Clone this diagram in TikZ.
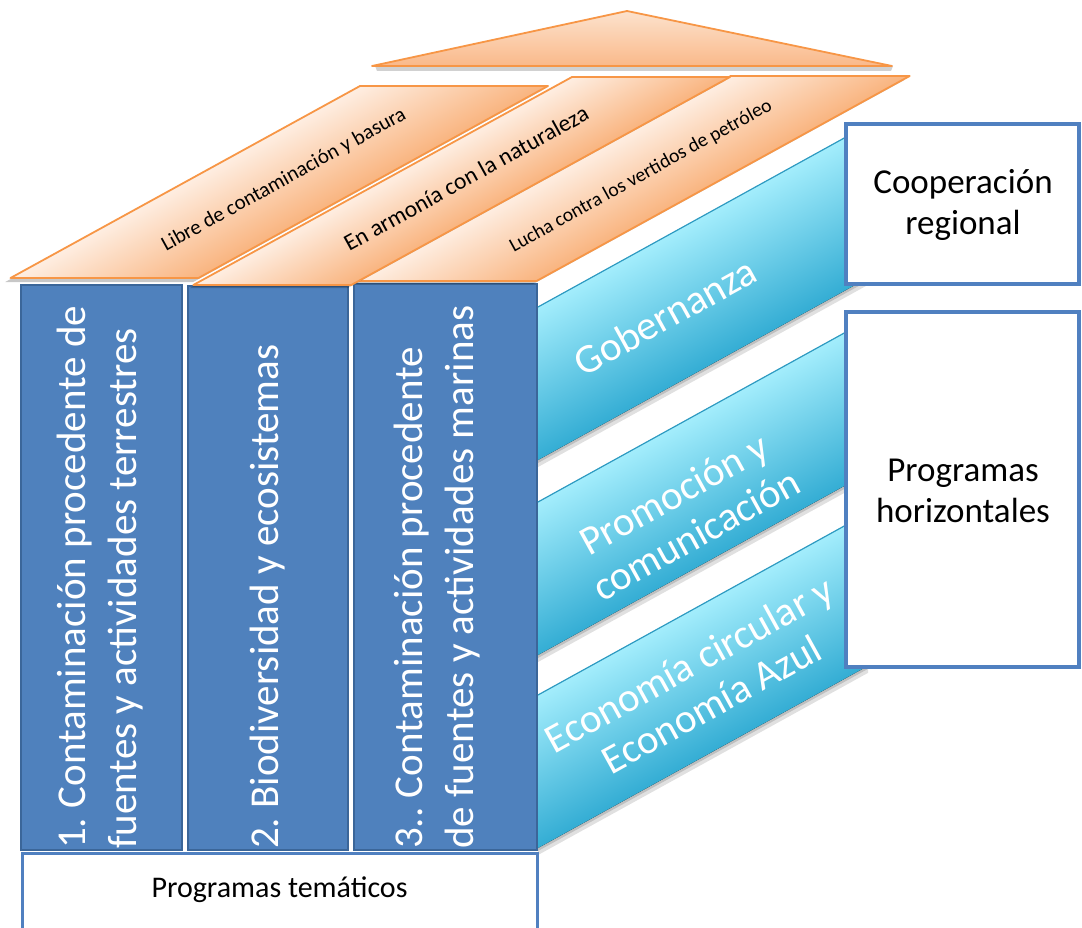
\documentclass[tikz,border=0pt]{standalone}
\usepackage{fontspec}
\setmainfont{Carlito}
\frenchspacing
\definecolor{colblue}{HTML}{4F81BD}
\definecolor{colborder}{HTML}{3B6699}
\definecolor{boxblue}{HTML}{5080C0}
\definecolor{roofline}{HTML}{F79646}
\definecolor{roofl}{HTML}{FEEEE2}
\definecolor{roofd}{HTML}{F9B47F}
\definecolor{ridgel}{HTML}{FCE2CD}
\definecolor{ridged}{HTML}{FAB98A}
\definecolor{bandl}{HTML}{A3EDFC}
\definecolor{bandd}{HTML}{34ADD4}
\definecolor{bandline}{HTML}{2E9BC2}
\tikzset{
 roofedge/.style={draw=roofline, line width=1.8pt, line join=round},
 pillar/.style={fill=colblue, draw=colborder, line width=2.5pt},
 sidebox/.style={draw=boxblue, line width=4pt, fill=white},
 coltext/.style={rotate=90, anchor=west, align=left, text=white, inner sep=0pt, font=\fontsize{41}{51}\selectfont},
 bandtext/.style={rotate=28.9, align=center, text=white, inner sep=0pt, font=\fontsize{41}{46}\selectfont},
 rooftext/.style={rotate=28.9, inner sep=0pt},
 boxtext/.style={align=center, inner sep=0pt, font=\fontsize{35}{41}\selectfont},
 bandshade/.style={top color=bandl, bottom color=bandd},
 roofshade/.style={left color=roofl, right color=roofd},
}
\begin{document}
\begin{tikzpicture}[x=1pt,y=-1pt]
\useasboundingbox (0,0) rectangle (1082,928);
% ---------- ridge ----------
\fill[black,opacity=.18] (375,66) -- (893,66) -- (891,71) -- (377,71) -- cycle;
\draw[roofedge, top color=ridgel, bottom color=ridged] (627,11) -- (892,66) -- (372,66) -- cycle;
% ---------- columns ----------
\draw[pillar] (21,285) rectangle (182,850);
\draw[pillar] (188,286) rectangle (348,850);
\draw[pillar] (354,284) rectangle (537,850);
% ---------- roof slabs (P3, P2, P1) ----------
\begin{scope}[transform canvas={xslant=1.82}]
  \fill[black,opacity=.22] (871,80) rectangle (1050,284);
  \fill[roofshade] (869,76) rectangle (1048,281);
\end{scope}
\draw[roofedge] (357.6,281) -- (536.6,281) -- (909.7,76) -- (730.7,76) -- cycle;
\begin{scope}[transform canvas={xslant=1.82}]
  \fill[black,opacity=.22] (714,81) rectangle (872,288);
  \fill[roofshade] (712,77) rectangle (870,285);
\end{scope}
\draw[roofedge] (193.3,285) -- (351.3,285) -- (730,77) -- (572,77) -- cycle;
\begin{scope}[transform canvas={xslant=1.82}]
  \fill[black,opacity=.22] (518.5,90) rectangle (706.5,282);
  \fill[roofshade] (516.5,86) rectangle (704.5,278);
\end{scope}
\draw[roofedge] (10.5,278) -- (198.5,278) -- (548,86) -- (360,86) -- cycle;
\node[rooftext, font=\fontsize{21}{24}\selectfont] (r1) at (284,180) {Libre de contaminación y basura};
\node[rooftext, font=\fontsize{23.5}{26}\selectfont] (r2) at (466,178) {En armonía con la naturaleza};
\node[rooftext, font=\fontsize{19.7}{22}\selectfont] (r3) at (641,176) {Lucha contra los vertidos de petróleo};
% ---------- horizontal bands ----------
\begin{scope}[transform canvas={yslant=0.552}]
  \fill[black,opacity=.12] (538,608) rectangle (868,764);
  \fill[black,opacity=.15] (538,606) rectangle (867,760);
  \fill[bandshade] (538,604) rectangle (866,757);
  \fill[black,opacity=.12] (538,803) rectangle (868,959);
  \fill[black,opacity=.15] (538,801) rectangle (867,955);
  \fill[bandshade] (538,799) rectangle (866,952);
  \fill[black,opacity=.12] (538,996) rectangle (868,1152);
  \fill[black,opacity=.15] (538,994) rectangle (867,1148);
  \fill[bandshade] (538,992) rectangle (866,1145);
\end{scope}
\coordinate (g1) at (538,307); \coordinate (g2) at (866,126);
\coordinate (p1) at (538,502); \coordinate (p2) at (866,321);
\coordinate (e1) at (538,695); \coordinate (e2) at (866,514);
\draw[bandline, line width=1.2pt] (g1) -- (g2);
\draw[bandline, line width=1.2pt] (p1) -- (p2);
\draw[bandline, line width=1.2pt] (e1) -- (e2);
\node[bandtext] (gob) at (665,316) {Gobernanza};
\node[bandtext] (pro) at (685,514) {Promoción y\\comunicación};
\node[bandtext] (eco) at (700,684) {Economía circular y\\Economía Azul};
% ---------- column texts ----------
\node[coltext] (c1) at (100,849) {1. Contaminación procedente de\\fuentes y actividades terrestres};
\node[coltext] (c2) at (268,849) {2. Biodiversidad y ecosistemas};
\node[coltext] (c3) at (437,849) {3.. Contaminación procedente\\de fuentes y actividades marinas};
% ---------- boxes ----------
\draw[draw=boxblue, line width=3pt, fill=white] (22,853) rectangle (537,945);
\node[font=\fontsize{30}{34}\selectfont] (tem) at (279.5,890) {Programas temáticos};
\draw[sidebox] (846,124) rectangle (1079,284);
\node[boxtext] (coop) at (963,205) {Cooperación\\regional};
\draw[sidebox] (846,312) rectangle (1079,667);
\node[boxtext] (hor) at (963,491) {Programas\\horizontales};
\end{tikzpicture}
\end{document}
